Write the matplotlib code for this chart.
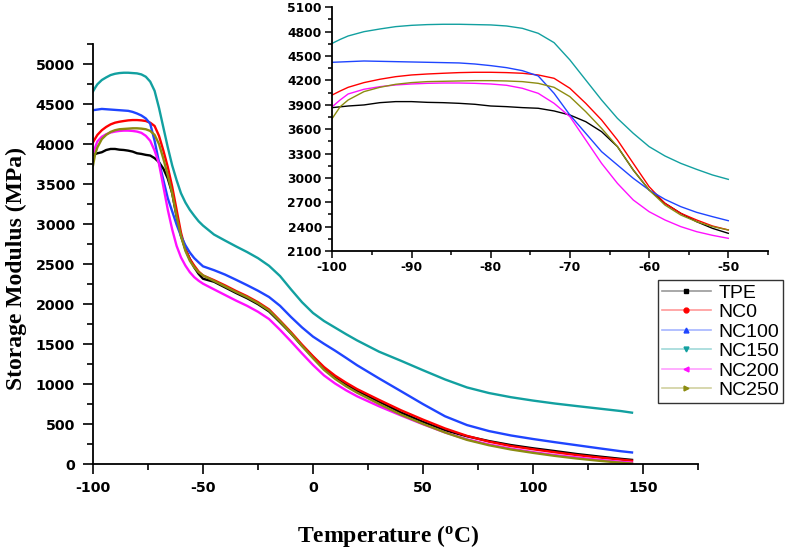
import matplotlib
matplotlib.use("Agg")
import matplotlib.pyplot as plt
from matplotlib.lines import Line2D
from matplotlib.ticker import MultipleLocator

# ---------------- data ----------------
temps = [-100, -99, -98, -96, -94, -92, -90, -88, -86, -84, -82, -80, -78, -76, -74,
         -72, -70, -68, -66, -64, -62, -60, -58, -56, -54, -52, -50,
         -45, -40, -35, -30, -25, -20, -15, -10, -5, 0, 5, 10, 15, 20,
         30, 40, 50, 60, 70, 80, 90, 100, 110, 120, 130, 140, 145]

tpe = [3865, 3875, 3885, 3898, 3926, 3939, 3939, 3930, 3926, 3918, 3906, 3885, 3877, 3865, 3857,
       3824, 3774, 3692, 3569, 3385, 3097, 2851, 2687, 2564, 2461, 2379, 2318,
       2280, 2210, 2140, 2075, 2000, 1910, 1775, 1635, 1480, 1340, 1200, 1090, 1000, 920,
       782, 647, 530, 425, 350, 290, 240, 200, 165, 128, 97, 68, 55]

nc0 = [4021, 4070, 4115, 4173, 4214, 4246, 4267, 4279, 4288, 4296, 4300, 4300, 4296, 4288, 4267,
       4226, 4103, 3918, 3713, 3467, 3179, 2892, 2687, 2564, 2482, 2408, 2359,
       2300, 2235, 2165, 2100, 2025, 1935, 1795, 1650, 1495, 1350, 1215, 1108, 1020, 940,
       805, 675, 558, 448, 355, 283, 228, 188, 150, 115, 85, 58, 45]

nc100 = [4423, 4427, 4431, 4439, 4435, 4431, 4427, 4423, 4419, 4415, 4402, 4382, 4357, 4320, 4255,
         4041, 3774, 3549, 3323, 3159, 2995, 2851, 2736, 2646, 2576, 2523, 2473,
         2425, 2370, 2305, 2238, 2168, 2090, 1980, 1840, 1710, 1595, 1505, 1420, 1330, 1238,
         1073, 913, 752, 600, 490, 415, 360, 316, 276, 238, 200, 163, 148]

nc150 = [4657, 4705, 4747, 4800, 4833, 4862, 4878, 4887, 4891, 4891, 4887, 4883, 4870, 4841, 4780,
         4665, 4452, 4205, 3959, 3733, 3549, 3385, 3270, 3179, 3105, 3036, 2982,
         2870, 2795, 2722, 2652, 2575, 2480, 2352, 2185, 2025, 1890, 1790, 1708, 1626, 1548,
         1407, 1293, 1175, 1060, 960, 890, 838, 796, 759, 727, 696, 665, 645]

nc200 = [3877, 3960, 4033, 4091, 4123, 4144, 4156, 4164, 4168, 4168, 4164, 4156, 4140, 4103, 4041,
         3918, 3754, 3467, 3179, 2933, 2728, 2584, 2482, 2400, 2338, 2293, 2256,
         2185, 2115, 2045, 1980, 1905, 1815, 1680, 1535, 1385, 1240, 1110, 1010, 925, 850,
         725, 610, 500, 398, 312, 248, 195, 152, 115, 85, 55, 30, 20]

nc250 = [3733, 3877, 3959, 4062, 4115, 4152, 4173, 4185, 4189, 4193, 4197, 4197, 4193, 4185, 4164,
         4115, 4000, 3815, 3610, 3385, 3097, 2851, 2666, 2543, 2461, 2400, 2359,
         2290, 2222, 2152, 2088, 2012, 1922, 1785, 1638, 1478, 1325, 1180, 1068, 975, 895,
         755, 620, 505, 398, 305, 238, 185, 143, 105, 72, 44, 20, 10]

labels = ["TPE", "NC0", "NC100", "NC150", "NC200", "NC250"]
series = [tpe, nc0, nc100, nc150, nc200, nc250]
colors = ["#000000", "#ff0000", "#1f45ff", "#12a0a0", "#ff10ff", "#8c8c10"]
markers = ["s", "o", "^", "v", "<", ">"]
inset_end = -50  # inset curves run from -100 to -50

# ---------------- style ----------------
plt.rcParams["axes.unicode_minus"] = False
plt.rcParams["mathtext.fontset"] = "custom"
plt.rcParams["mathtext.rm"] = "Liberation Serif:bold"
plt.rcParams["mathtext.bf"] = "Liberation Serif:bold"
plt.rcParams["mathtext.it"] = "Liberation Serif:bold"

W, H = 790, 548
fig = plt.figure(figsize=(W / 100, H / 100), dpi=100)

# main axes
ax = fig.add_axes([93 / W, 1 - 464.3 / H, 605 / W, 420.3 / H])
for y, c in zip(series, colors):
    ax.plot(temps, y, color=c, lw=1.7)
ax.set_xlim(-100, 175)
ax.set_ylim(0, 5250)
ax.xaxis.set_major_locator(MultipleLocator(50))
ax.xaxis.set_minor_locator(MultipleLocator(25))
ax.yaxis.set_major_locator(MultipleLocator(500))
ax.yaxis.set_minor_locator(MultipleLocator(250))
for s in ["top", "right"]:
    ax.spines[s].set_visible(False)
for s in ["left", "bottom"]:
    ax.spines[s].set_linewidth(1.3)
ax.tick_params(which="major", direction="out", length=7, width=1.2, labelsize=10.3)
ax.tick_params(which="minor", direction="out", length=4, width=1.2)
ax.tick_params(axis="x", which="major", pad=5)
ax.tick_params(axis="y", which="major", pad=6)
for lab in ax.get_xticklabels() + ax.get_yticklabels():
    lab.set_fontweight("bold")
    lab.set_fontfamily("DejaVu Sans")

ax.set_xlabel(r"Temperature ($^{\mathbf{o}}$C)", fontfamily="Liberation Serif",
              fontweight="bold", fontsize=17)
ax.set_ylabel("Storage Modulus (MPa)", fontfamily="Liberation Serif",
              fontweight="bold", fontsize=17)
ax.xaxis.set_label_coords(0.488, -0.139)
ax.yaxis.set_label_coords(-0.109, 0.465)

# inset axes
n_in = temps.index(inset_end) + 1
ins = fig.add_axes([332.3 / W, 1 - 251 / H, 435.6 / W, 243.7 / H])
for y, c in zip(series, colors):
    ins.plot(temps[:n_in], y[:n_in], color=c, lw=1.0)
ins.set_xlim(-100, -45)
ins.set_ylim(2100, 5100)
ins.xaxis.set_major_locator(MultipleLocator(10))
ins.xaxis.set_minor_locator(MultipleLocator(5))
ins.yaxis.set_major_locator(MultipleLocator(300))
ins.yaxis.set_minor_locator(MultipleLocator(150))
for s in ["top", "right"]:
    ins.spines[s].set_visible(False)
for s in ["left", "bottom"]:
    ins.spines[s].set_linewidth(1.3)
ins.tick_params(which="major", direction="out", length=5, width=1.1, labelsize=8.8, pad=2.5)
ins.tick_params(which="minor", direction="out", length=3, width=1.1)
for lab in ins.get_xticklabels() + ins.get_yticklabels():
    lab.set_fontweight("bold")
    lab.set_fontfamily("DejaVu Sans")

# legend
handles = []
for c, m, l in zip(colors, markers, labels):
    rgba = matplotlib.colors.to_rgba(c, 0.4)
    handles.append(Line2D([0], [0], color=rgba, lw=1.2, marker=m, markersize=3.5,
                          markerfacecolor=c, markeredgecolor=c, label=l))
leg = fig.legend(handles=handles, loc="upper left",
                 bbox_to_anchor=(658 / W, 1 - 280 / H), bbox_transform=fig.transFigure,
                 borderaxespad=0, prop={"family": "Liberation Sans", "size": 14},
                 frameon=True, fancybox=False, shadow=False, framealpha=1,
                 edgecolor="#333333", handlelength=2.5, handletextpad=0.4,
                 labelspacing=0.1, borderpad=0.2)
leg.get_frame().set_linewidth(1.0)

fig.savefig("out.png", dpi=100)
